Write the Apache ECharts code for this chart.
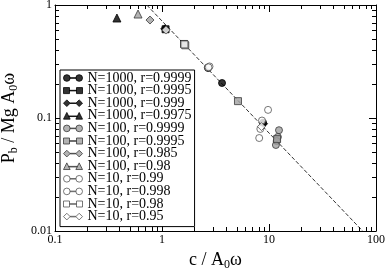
<!DOCTYPE html>
<html><head><meta charset="utf-8">
<script src="https://cdn.jsdelivr.net/npm/echarts@6/dist/echarts.min.js"></script>
<style>html,body{margin:0;padding:0;background:#fff}#c{width:388px;height:273px}</style>
</head><body><div id="c"></div>
<script>
// ---- data (c/A0ω, Pb/MgA0ω) ----
const n1000_9999 = [[2.70, 0.277], [3.64, 0.204], [8.8, 0.091]];
const n1000_9995 = [[1.61, 0.452], [1.08, 0.61]];
const n1000_999  = [[1.06, 0.615], [8.9, 0.089]];
const n1000_9975 = [[0.379, 0.767]];
const n100_9999  = [[2.68, 0.280], [12.4, 0.078], [12.1, 0.068], [11.8, 0.0625], [11.6, 0.0577]];
const n100_9995  = [[1.65, 0.440], [5.13, 0.141], [11.9, 0.065]];
const n100_985   = [[0.772, 0.736]];
const n100_98    = [[0.597, 0.832]];
const n10_99     = [[2.78, 0.286], [9.8, 0.118], [8.1, 0.0665], [8.3, 0.080]];
const n10_998    = [[2.72, 0.281], [8.6, 0.095]];
const n10_98     = [[1.62, 0.448]];
const n10_95     = [[1.09, 0.60], [8.5, 0.084]];
const fitLine    = [[0.72, 1], [75, 0.01]];

const xTickLabels = ['0.1', '1', '10', '100'];
const yTickLabels = ['0.01', '0.1', '1'];
const minorX = [0.2,0.3,0.4,0.5,0.6,0.7,0.8,0.9,2,3,4,5,6,7,8,9,20,30,40,50,60,70,80,90];
const minorY = [0.02,0.03,0.04,0.05,0.06,0.07,0.08,0.09,0.2,0.3,0.4,0.5,0.6,0.7,0.8,0.9];

const legendNames = ['N=1000, r=0.9999','N=1000, r=0.9995','N=1000, r=0.999','N=1000, r=0.9975',
  'N=100, r=0.9999','N=100, r=0.9995','N=100, r=0.985','N=100, r=0.98',
  'N=10, r=0.99','N=10, r=0.998','N=10, r=0.98','N=10, r=0.95'];
const seriesData = [n1000_9999,n1000_9995,n1000_999,n1000_9975,n100_9999,n100_9995,n100_985,n100_98,n10_99,n10_998,n10_98,n10_95];
const shapes = ['circle','rect','diamond','triangle','circle','rect','diamond','triangle','circle','circle','rect','diamond'];
const kinds  = ['black','black','black','black','gray','gray','gray','gray','open','open','open','open'];

const FONT = 'Liberation Serif';
const styleFor = k => k === 'black' ? {color:'#000', borderColor:'#000', borderWidth:1}
  : k === 'gray' ? {color:'#a0a0a0', borderColor:'#3a3a3a', borderWidth:1}
  : {color:'#fff', borderColor:'#555', borderWidth:1};
const iconPath = {
  circle: 'path://M0,3.5A3.5,3.5,0,1,1,7,3.5A3.5,3.5,0,1,1,0,3.5Z M13,3.5A3.5,3.5,0,1,1,20,3.5A3.5,3.5,0,1,1,13,3.5Z M7,3.2L13,3.2L13,3.8L7,3.8Z',
  rect: 'path://M0.5,0.5L6.5,0.5L6.5,6.5L0.5,6.5Z M13.5,0.5L19.5,0.5L19.5,6.5L13.5,6.5Z M6.5,3.2L13.5,3.2L13.5,3.8L6.5,3.8Z',
  diamond: 'path://M3.5,0L7,3.5L3.5,7L0,3.5Z M16.5,0L20,3.5L16.5,7L13,3.5Z M7,3.2L13,3.2L13,3.8L7,3.8Z',
  triangle: 'path://M3.5,0L7,7L0,7Z M16.5,0L20,7L13,7Z M5.5,3.7L14.5,3.7L14.5,4.3L5.5,4.3Z'
};
const symSize = {circle:7, rect:7, diamond:8, triangle:8};

const series = seriesData.map((d, i) => ({
  name: legendNames[i], type: 'scatter', data: d,
  symbol: shapes[i], symbolSize: symSize[shapes[i]],
  itemStyle: styleFor(kinds[i]), z: 3, silent: true
}));
series.unshift({
  name: 'fit', type: 'line', data: fitLine, symbol: 'none', z: 2, silent: true,
  lineStyle: {color: '#333', width: 1, type: [4, 2]}
});
const px = v => Math.round(v) + 0.5;
series.push({
  type: 'custom', silent: true, clip: false, z: 5,
  data: minorX.map(v => [v, 0.01]),
  renderItem: (p, api) => {
    const b = api.coord([api.value(0), 0.01]), t = api.coord([api.value(0), 1]);
    const x = px(b[0]);
    return {type:'group', children:[
      {type:'line', shape:{x1:x, y1:b[1], x2:x, y2:b[1]-4}, style:{stroke:'#000', lineWidth:1}},
      {type:'line', shape:{x1:x, y1:t[1], x2:x, y2:t[1]+4}, style:{stroke:'#000', lineWidth:1}}]};
  }
});
series.push({
  type: 'custom', silent: true, clip: false, z: 5,
  data: minorY.map(v => [0.1, v]),
  renderItem: (p, api) => {
    const l = api.coord([0.1, api.value(1)]), r = api.coord([100, api.value(1)]);
    const y = px(l[1]);
    return {type:'group', children:[
      {type:'line', shape:{x1:l[0], y1:y, x2:l[0]+4, y2:y}, style:{stroke:'#000', lineWidth:1}},
      {type:'line', shape:{x1:r[0], y1:y, x2:r[0]-4, y2:y}, style:{stroke:'#000', lineWidth:1}}]};
  }
});

const axBase = {
  type: 'log', logBase: 10,
  axisLine: {show: true, onZero: false, lineStyle: {color: '#000', width: 1}},
  axisTick: {show: true, inside: true, length: 7, lineStyle: {color: '#000'}},
  splitLine: {show: false}, minorTick: {show: false}, minorSplitLine: {show: false}
};
const option = {
  animation: false,
  backgroundColor: '#fff',
  grid: {left: 55, right: 12, top: 5, bottom: 42, containLabel: false, outerBoundsMode: 'none'},
  xAxis: [
    Object.assign({}, axBase, {min: 0.1, max: 100, position: 'bottom',
      axisLabel: {margin: 3, fontFamily: FONT, fontSize: 12, color: '#000',
        formatter: v => xTickLabels.find(s => Math.abs(parseFloat(s) - v) < 1e-9 * Math.max(1, v)) || ''},
      name: '{n|c / A}{s|0}{n|ω}', nameLocation: 'middle', nameGap: 15,
      nameTextStyle: {rich: {n: {fontFamily: FONT, fontSize: 18, color: '#000'},
        s: {fontFamily: FONT, fontSize: 12, color: '#000', padding: [10, 0, 0, 0]}}}}),
    Object.assign({}, axBase, {min: 0.1, max: 100, position: 'top', axisLabel: {show: false}})
  ],
  yAxis: [
    Object.assign({}, axBase, {min: 0.01, max: 1, position: 'left',
      axisLabel: {margin: 3, fontFamily: FONT, fontSize: 12, color: '#000',
        formatter: v => yTickLabels.find(s => Math.abs(parseFloat(s) - v) < 1e-9) || ''},
      name: '{n|P}{s|b}{n| / Mg A}{s|0}{n|ω}', nameLocation: 'middle', nameGap: 26, nameRotate: 90,
      nameTextStyle: {rich: {n: {fontFamily: FONT, fontSize: 18, color: '#000'},
        s: {fontFamily: FONT, fontSize: 12, color: '#000', padding: [10, 0, 0, 0]}}}}),
    Object.assign({}, axBase, {min: 0.01, max: 1, position: 'right', axisLabel: {show: false}})
  ],
  legend: {
    show: true, orient: 'vertical', left: 60, top: 70, selectedMode: false,
    backgroundColor: '#fff', borderColor: '#000', borderWidth: 1,
    padding: [1, 3, 3, 3], itemGap: -1.4, itemWidth: 19, itemHeight: 7,
    textStyle: {fontFamily: FONT, fontSize: 14, color: '#000'},
    data: legendNames.map((n, i) => ({name: n, icon: iconPath[shapes[i]], itemStyle: styleFor(kinds[i])}))
  },
  series: series
};
const chart = echarts.init(document.getElementById('c'), null, {renderer: 'canvas'});
chart.setOption(option);
</script></body></html>
